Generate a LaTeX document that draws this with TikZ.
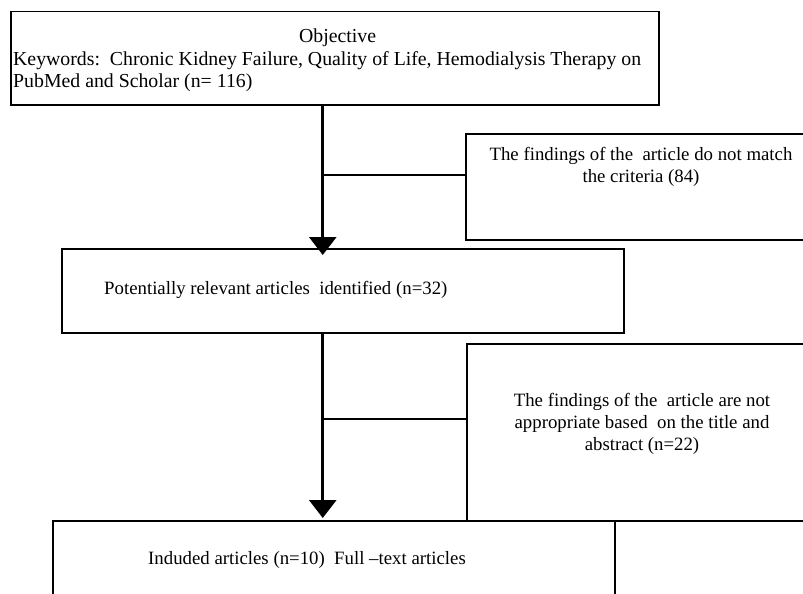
\documentclass[tikz,border=0pt]{standalone}
\usepackage{fontspec}
\setmainfont{Liberation Serif}
\usetikzlibrary{arrows.meta}
\begin{document}
\begin{tikzpicture}[x=1pt,y=-1pt,
  box/.style={draw, line width=1.5pt, rectangle, inner sep=0pt, anchor=north west},
  txt/.style={font=\fontsize{18.8}{22}\selectfont, inner sep=0pt},
  bigtxt/.style={font=\fontsize{19.8}{22.5}\selectfont, inner sep=0pt},
  flow/.style={line width=3pt, -{Triangle[length=18pt,width=27pt]}},
  branch/.style={line width=1.5pt}]
\useasboundingbox (0,0) rectangle (803,594);
\clip (0,0) rectangle (803,594);
% boxes
\node[box, minimum width=648pt, minimum height=93pt] (obj) at (10,11) {};
\node[box, minimum width=350pt, minimum height=106pt] (ex1) at (465,133) {};
\node[box, minimum width=562pt, minimum height=84pt] (rel) at (61,248) {};
\node[box, minimum width=349pt, minimum height=177pt] (ex2) at (466,343) {};
\node[box, minimum width=562pt, minimum height=100pt] (inc) at (52,520) {};
% texts
\node[bigtxt, align=left, anchor=west] (objtxt) at (13,60.5)
  {\hspace*{286pt}Objective\\
   Keywords:\ \ Chronic Kidney Failure, Quality of Life, Hemodialysis Therapy on\\
   PubMed and Scholar (n= 116)};
\node[txt, align=center] (ex1txt) at (641,166.5)
  {The findings of the\ \ article do not match\\ the criteria (84)};
\node[txt, anchor=west] (reltxt) at (104,290)
  {Potentially relevant articles\ \ identified (n=32)};
\node[txt, align=center] (ex2txt) at (642,423.5)
  {The findings of the\ \ article are not\\ appropriate based\ \ on the title and\\ abstract (n=22)};
\node[txt, anchor=west] (inctxt) at (148,560)
  {Induded articles (n=10)\ \ Full –text articles};
% connectors
\draw[flow] ([xshift=-12pt]obj.south) -- ([xshift=-12pt,yshift=-7pt]obj.south |- rel.north) coordinate (a1);
\coordinate (j1) at ([xshift=-12pt]obj.south |- 0,174);
\draw[branch] ([yshift=12pt]ex1.west) -- ([yshift=12pt]ex1.west -| j1);
\draw[flow] ([xshift=-20pt]rel.south) -- ([xshift=-20pt,yshift=2pt]rel.south |- inc.north);
\draw[branch] ([yshift=13.5pt]ex2.west) -- ([yshift=13.5pt]ex2.west -| a1);
\end{tikzpicture}
\end{document}
